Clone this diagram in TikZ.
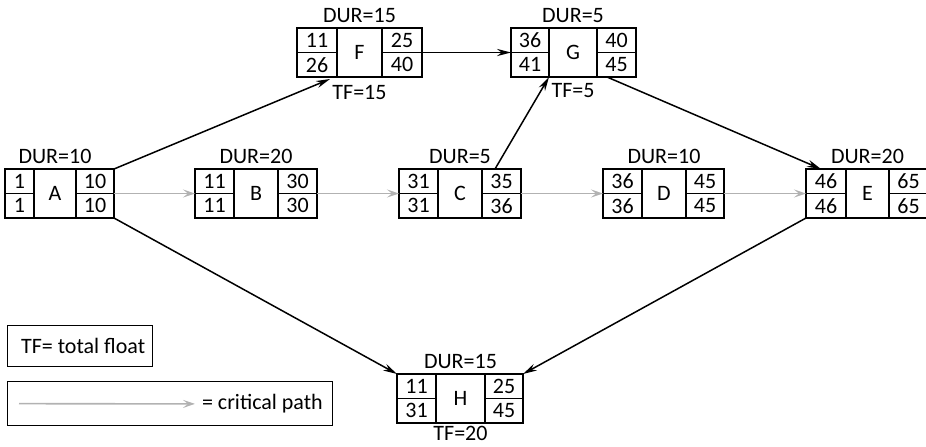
\documentclass[tikz,border=0pt]{standalone}
\usepackage{fontspec}
\setmainfont{Carlito}
\usetikzlibrary{arrows.meta,positioning}

\begin{document}
\begin{tikzpicture}[x=0.5pt, y=-0.5pt, font=\fontsize{11}{13}\selectfont,
    cell/.style={draw, line width=0.65pt, inner sep=0pt, outer sep=0pt, minimum height=12.25pt},
    link/.style={-{Stealth[length=7pt,width=3.6pt]}, line width=0.75pt},
    crit/.style={-{Stealth[length=6pt,width=4pt,inset=2.5pt]}, line width=0.8pt, black!30},
    tag/.style={inner sep=0pt}]
    \useasboundingbox (0,0) rectangle (926,446);

    % Activity boxes: early start/finish on top, late start/finish below
    \foreach \n/\x/\y/\lw/\mw/\rw/\es/\ef/\ls/\lf/\d in {
        A/5/169/29/42/38/1/10/1/10/10,
        B/195/169/39/44/39/11/30/11/30/20,
        C/399/169/39/44/39/31/35/31/36/5,
        D/603/169/39/44/38/36/45/36/45/10,
        E/806/169/40/43/39/46/65/46/65/20,
        F/297/28/40/45/40/11/25/26/40/15,
        G/511/28/38/48/39/36/40/41/45/5,
        H/397/374/39/49/38/11/25/31/45/15} {
        \node[cell, minimum width=\lw*0.5pt, anchor=north west] (\n-es) at (\x,\y) {\es};
        \node[cell, minimum width=\lw*0.5pt, below=0pt of \n-es] (\n-ls) {\ls};
        \node[cell, minimum width=\mw*0.5pt, minimum height=24.5pt, anchor=north west]
            (\n) at (\n-es.north east) {\n};
        \node[cell, minimum width=\rw*0.5pt, anchor=north west] (\n-ef) at (\n.north east) {\ef};
        \node[cell, minimum width=\rw*0.5pt, below=0pt of \n-ef] (\n-lf) {\lf};
        \node[tag, above=2.5pt of \n] (\n-dur) {DUR=\d};
    }

    % Total float under the non-critical activities
    \node[tag, below=4pt of F] (F-tf) {TF=15};
    \node[tag, below=3pt of G] (G-tf) {TF=5};
    \node[tag, below=1.5pt of H] (H-tf) {TF=20};

    % Critical path A-B-C-D-E (grey)
    \foreach \a/\b in {A/B, B/C, C/D, D/E}
        \draw[crit] (\a-ef.south east) -- (\b-es.south west);

    % Remaining dependencies
    \draw[link] (A-ef.north east) -- ([xshift=-3.5pt,yshift=-1pt]F-ls.south east);
    \draw[link] (F-ef.south east) -- (G-es.south west);
    \draw[link] ([xshift=-3.25pt]C-ef.north) -- (G-ls.south east);
    \draw[link] ([xshift=-4.75pt]G-lf.south) -- ([xshift=7.5pt]E-es.north west);
    \draw[link] (A-lf.south east) -- (H-es.north west);
    \draw[link] (E-ls.south west) -- (H-ef.north east);

    % Legend
    \node[draw, line width=0.65pt, minimum width=72.5pt, minimum height=20.5pt, anchor=north west]
        (tfkey) at (7,325) {\hspace{3pt}TF= total float};
    \node[draw, line width=0.65pt, minimum width=162.5pt, minimum height=22pt, anchor=north west]
        (critkey) at (7,381) {};
    \coordinate (critkey-a) at ([xshift=6pt]critkey.west);
    \node[anchor=west] (critkey-txt) at (195,404) {= critical path};
    \draw[crit] (critkey-a) -- (critkey-txt);
\end{tikzpicture}
\end{document}
